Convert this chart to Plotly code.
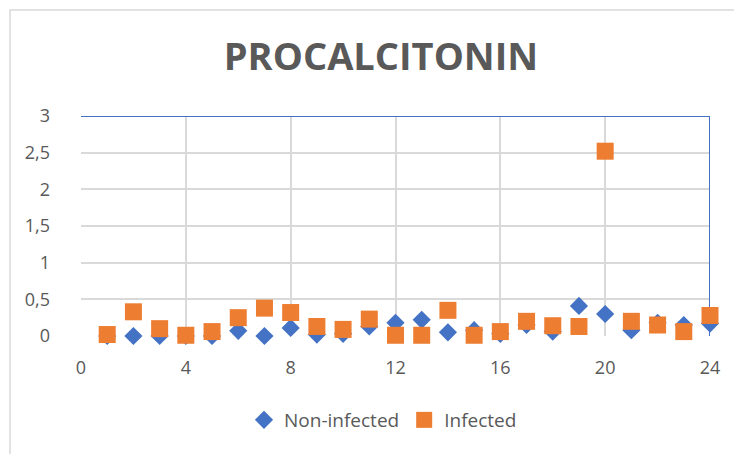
import plotly.graph_objects as go

x_vals = list(range(1, 25))
non_infected = [0, 0, 0, 0, 0, 0.07, 0, 0.11, 0.02, 0.03, 0.13, 0.18,
                0.22, 0.05, 0.08, 0.03, 0.15, 0.06, 0.41, 0.30, 0.08, 0.18, 0.15, 0.17]
infected = [0.02, 0.33, 0.10, 0.01, 0.06, 0.25, 0.38, 0.32, 0.13, 0.09, 0.23, 0.01,
            0.01, 0.35, 0.01, 0.06, 0.20, 0.14, 0.13, 2.52, 0.20, 0.15, 0.06, 0.28]
title_text = "PROCALCITONIN"
x_ticks = [0, 4, 8, 12, 16, 20, 24]
y_ticks = [0, 0.5, 1, 1.5, 2, 2.5, 3]

OFF = 8  # page body margin
W, H = 742, 454
# reference pixel geometry of plot area
PX0, PX1, PY0, PY1 = 81, 710, 116, 336
L, T = PX0 - OFF, PY0 - OFF
pw, ph = PX1 - PX0, PY1 - PY0
R, B = W - L - pw, H - T - ph

def px_x(p):
    return (p - PX0) / pw

def px_y(p):
    return (PY1 - p) / ph

fig = go.Figure()
fig.add_trace(go.Scatter(
    x=x_vals, y=non_infected, mode="markers", name="Non-infected",
    marker=dict(symbol="diamond", size=14, color="#4472C4"),
    cliponaxis=False))
fig.add_trace(go.Scatter(
    x=x_vals, y=infected, mode="markers", name="Infected",
    marker=dict(symbol="square", size=17, color="#ED7D31"),
    cliponaxis=False))

grid = "#D9D9D9"
tick_font = dict(family="Open Sans", size=18, color="#595959")

fig.update_layout(
    width=W, height=H,
    margin=dict(l=L, r=R, t=T, b=B, pad=0),
    paper_bgcolor="white", plot_bgcolor="white",
    separators=", ",
    title=dict(text="<b>" + title_text + "</b>", x=(381 - OFF) / W, xref="container",
               xanchor="center", y=1 - (57 - OFF) / H, yref="container", yanchor="middle",
               font=dict(family="Open Sans", size=38, color="#595959")),
    xaxis=dict(range=[0, 24], tickvals=x_ticks, showgrid=True, gridcolor=grid,
               gridwidth=1.5, zeroline=False, showline=False, ticks="",
               ticklabelstandoff=19, tickfont=tick_font),
    yaxis=dict(range=[0, 3], tickvals=y_ticks, showgrid=True, gridcolor=grid,
               gridwidth=1.5, zeroline=False, showline=False, ticks="",
               ticklabelstandoff=30, tickfont=tick_font),
    showlegend=True,
    legend=dict(orientation="h", x=px_x(383), xanchor="center",
                y=px_y(420), yanchor="middle",
                font=dict(family="Open Sans", size=19, color="#595959"),
                itemwidth=30, tracegroupgap=0),
    shapes=[
        dict(type="rect", xref="paper", yref="paper",
             x0=px_x(10), x1=px_x(790), y0=px_y(10), y1=px_y(490),
             line=dict(color="#D9D9D9", width=1.5), fillcolor="rgba(0,0,0,0)",
             layer="below"),
        dict(type="line", xref="x", yref="y", x0=0, x1=24, y0=3, y1=3,
             line=dict(color="#4472C4", width=2), layer="between"),
        dict(type="line", xref="x", yref="y", x0=24, x1=24, y0=-0.02, y1=3,
             line=dict(color="#4472C4", width=2), layer="between"),
    ],
)

fig.write_html("out.html")
